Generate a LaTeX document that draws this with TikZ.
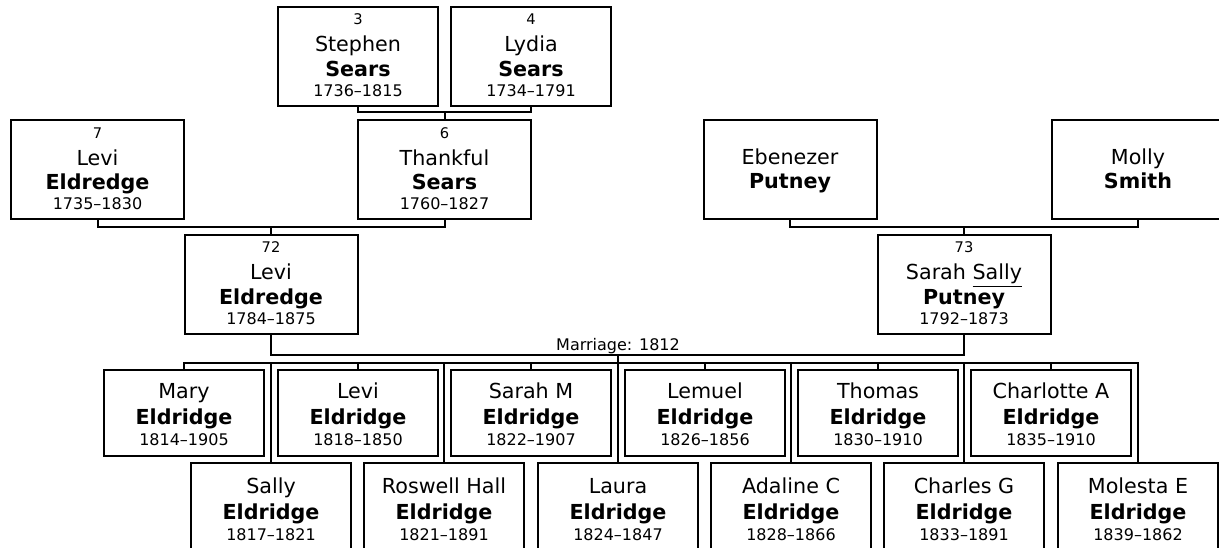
\documentclass[tikz,border=0pt]{standalone}
\usepackage{fontspec}
\setmainfont{DejaVu Sans}
\newdimen\pxu \pxu=0.75pt
\newcommand\fnum{\fontsize{11pt}{13pt}\selectfont}
\newcommand\fname{\fontsize{15.5pt}{18pt}\selectfont}
\newcommand\fsur{\fontsize{15.5pt}{18pt}\selectfont\bfseries}
\newcommand\fdate{\fontsize{12pt}{14pt}\selectfont}
\newcommand\vrow[3]{\vrule width0pt height#1\pxu depth#2\pxu\smash{#3}\cr}
\newcommand\pfull[4]{\vbox{\offinterlineskip\halign{\hfil##\hfil\cr
  \vrow{18}{0}{\fnum #1}\vrow{27}{0}{\fname #2}\vrow{24.5}{0}{\fsur #3}\vrow{20}{9.5}{\fdate #4}}}}
\newcommand\ptwo[2]{\vbox{\offinterlineskip\halign{\hfil##\hfil\cr
  \vrow{44}{0}{\fname #1}\vrow{24.5}{30.5}{\fsur #2}}}}
\newcommand\pchild[3]{\vbox{\offinterlineskip\halign{\hfil##\hfil\cr
  \vrow{28}{0}{\fname #1}\vrow{26}{0}{\fsur #2}\vrow{21}{11}{\fdate #3}}}}
\newcommand\pchildb[3]{\vbox{\offinterlineskip\halign{\hfil##\hfil\cr
  \vrow{30}{0}{\fname #1}\vrow{26}{0}{\fsur #2}\vrow{21}{11}{\fdate #3}}}}
\tikzset{
  box/.style={draw=black, line width=1.5pt, rectangle, inner sep=0pt, fill=white},
  gpar/.style={box, minimum width=120pt, minimum height=74.25pt},
  par/.style={box, minimum width=129.75pt, minimum height=74.25pt},
  kid/.style={box, minimum width=120pt, minimum height=64.5pt},
  kidb/.style={box, minimum width=120pt, minimum height=66pt},
  conn/.style={draw=black, line width=1.5pt},
}
\begin{document}
\begin{tikzpicture}[x=0.75pt,y=-0.75pt]
\useasboundingbox (0,0) rectangle (1219,548);
\clip (0,0) rectangle (1219,548);
\fill[white] (0,0) rectangle (1219,548);
% grandparents
\node[gpar] (n3) at (358,56.5) {\pfull{3}{Stephen}{Sears}{1736--1815}};
\node[gpar] (n4) at (531,56.5) {\pfull{4}{Lydia}{Sears}{1734--1791}};
% parents of the couple
\node[par] (n7) at (97.5,170) {\pfull{7}{Levi}{Eldredge}{1735--1830}};
\node[par] (n6) at (444.5,170) {\pfull{6}{Thankful}{Sears}{1760--1827}};
\node[par] (eb) at (790,170) {\ptwo{Ebenezer}{Putney}};
\node[par] (mo) at (1138,170) {\ptwo{Molly}{Smith}};
% couple
\node[par] (n72) at (271,284.5) {\pfull{72}{Levi}{Eldredge}{1784--1875}};
\node[par] (n73) at (964,284.5) {\pfull{73}{Sarah \underline{Sally}}{Putney}{1792--1873}};
% children top row
\node[kid] (c1) at (184,413) {\pchild{Mary}{Eldridge}{1814--1905}};
\node[kid] (c3) at (358,413) {\pchild{Levi}{Eldridge}{1818--1850}};
\node[kid] (c5) at (531,413) {\pchild{Sarah M}{Eldridge}{1822--1907}};
\node[kid] (c7) at (705,413) {\pchild{Lemuel}{Eldridge}{1826--1856}};
\node[kid] (c9) at (878,413) {\pchild{Thomas}{Eldridge}{1830--1910}};
\node[kid] (c11) at (1051,413) {\pchild{Charlotte A}{Eldridge}{1835--1910}};
% children bottom row
\node[kidb] (c2) at (271,507) {\pchildb{Sally}{Eldridge}{1817--1821}};
\node[kidb] (c4) at (444,507) {\pchildb{Roswell Hall}{Eldridge}{1821--1891}};
\node[kidb] (c6) at (618,507) {\pchildb{Laura}{Eldridge}{1824--1847}};
\node[kidb] (c8) at (791,507) {\pchildb{Adaline C}{Eldridge}{1828--1866}};
\node[kidb] (c10) at (964,507) {\pchildb{Charles G}{Eldridge}{1833--1891}};
\node[kidb] (c12) at (1138,507) {\pchildb{Molesta E}{Eldridge}{1839--1862}};
% junction coordinates
\coordinate (t34) at (444.5,112.5);
\coordinate (t76) at (271,227);
\coordinate (tem) at (964,227);
\coordinate (marr) at (618,355);
\coordinate (sib) at (618,363);
% ties
\draw[conn] (n3.south) |- (t34) -| (n4.south);
\draw[conn] (t34) -- (n6.north);
\draw[conn] (n7.south) |- (t76) -| (n6.south);
\draw[conn] (t76) -- (n72.north);
\draw[conn] (eb.south) |- (tem) -| (mo.south);
\draw[conn] (tem) -- (n73.north);
\draw[conn] (n72.south) |- (marr) -| (n73.south);
\node[anchor=base, inner sep=0pt] (mlabel) at (618,351) {\fdate Marriage: 1812};
\draw[conn] (marr) -- (c6.north);
\draw[conn] (c1.north) |- (sib) -| (c12.north);
\foreach \c in {c2,c3,c4,c5,c7,c8,c9,c10,c11}
  \draw[conn] (\c.north) -- (\c.north |- sib);
\end{tikzpicture}
\end{document}
